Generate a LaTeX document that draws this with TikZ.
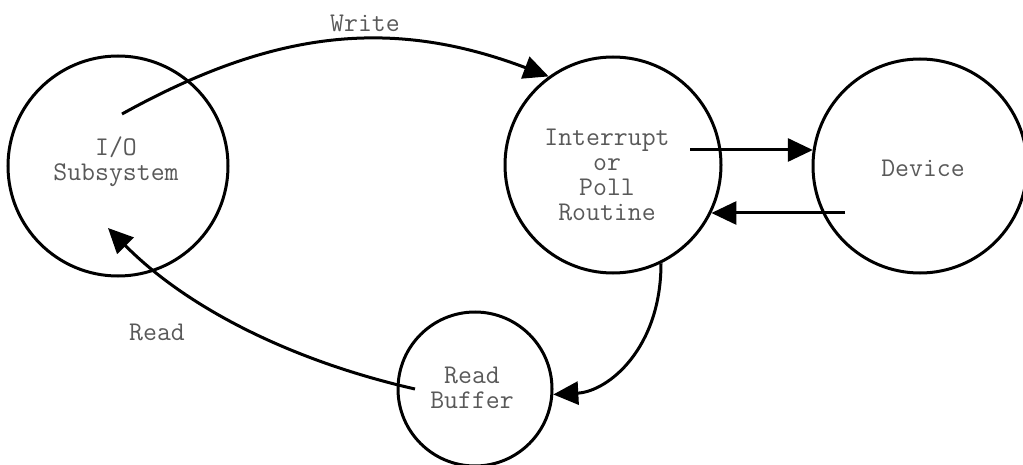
\documentclass[tikz,border=0pt]{standalone}
\usepackage{fontspec}
\usetikzlibrary{arrows.meta}
\begin{document}
\begin{tikzpicture}[x=1pt,y=-1pt,
  state/.style={draw, circle, line width=3pt, inner sep=0pt},
  lab/.style={font=\ttfamily\fontsize{27}{25}\selectfont, text=black!65, align=center, inner sep=0pt},
  arr/.style={line width=3pt, -{Triangle[length=25pt,width=23pt]}},
]
\useasboundingbox[fill=white] (0,0) rectangle (1023,465);

% states
\node[state, minimum size=220pt] (io)  at (118,166) {};
\node[state, minimum size=216pt] (ipr) at (613,165) {};
\node[state, minimum size=214pt] (dev) at (920,166) {};
\node[state, minimum size=154pt] (rb)  at (475,389) {};

% state texts
\node[lab] (iot)  at (116,162) {I/O\\Subsystem};
\node[lab] (iprt) at (607,175) {Interrupt\\or\\Poll\\Routine};
\node[lab] (devt) at (923,168) {Device};
\node[lab] (rbt)  at (472,388) {Read\\Buffer};

% free ends
\coordinate (w0) at (122,114);
\coordinate (a0) at (690,150);
\coordinate (d0) at (845,213);
\coordinate (r0) at (415,389);
\coordinate (r1) at (108,228);

% connectors
\draw[arr] (w0) .. controls (271,31.5) and (389,16) .. (ipr.126);
\draw[arr] (a0) -- (a0 -| dev.171);
\draw[arr] (d0) -- (d0 -| ipr.-26);
\draw[arr] (ipr.-64) .. controls +(0,85) and +(55,-3) .. (rb.-4);
\draw[arr] (r0) .. controls (288,360) and (185,306) .. (r1);

% connector labels
\node[lab] (wl) at (365,23) {Write};
\node[lab] (rl) at (157,332) {Read};
\end{tikzpicture}
\end{document}
